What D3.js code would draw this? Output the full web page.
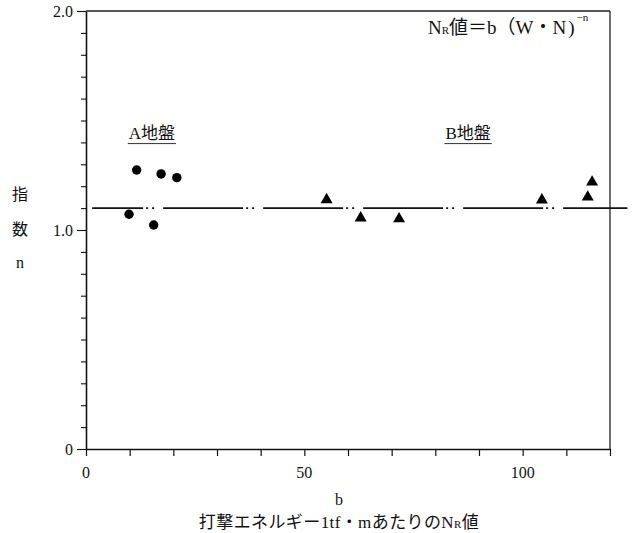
<!DOCTYPE html>
<html><head><meta charset="utf-8">
<script src="https://cdn.jsdelivr.net/npm/d3@7"></script>
<style>
html,body{margin:0;padding:0;background:#fff;}
svg{display:block;}
text{font-family:"Liberation Serif","Noto Sans CJK JP",serif;fill:#111;}
</style></head>
<body>
<svg id="chart" width="632" height="533"></svg>
<script>
// ---- data ----
const groupA_b = [9.85, 11.6, 15.5, 17.2, 20.8];
const groupA_n = [1.072, 1.274, 1.023, 1.256, 1.239];
const groupB_b = [55.1, 62.9, 71.7, 104.4, 114.9, 115.9];
const groupB_n = [1.138, 1.055, 1.051, 1.137, 1.150, 1.219];
const refLineN = 1.10;
const refLineRange = [1.4, 124];
const xMajorTicks = [0, 50, 100];
const yMajorTicks = [0, 1.0, 2.0];
const yTickLabels = ["0", "1.0", "2.0"];
const groupLabels = [{text:"A地盤", b:9.8, n:1.406}, {text:"B地盤", b:82.3, n:1.406}];

const svg = d3.select("#chart");
const L = 86, R = 610, T = 11, B = 449;
const x = d3.scaleLinear().domain([0, 120]).range([L, R]);
const y = d3.scaleLinear().domain([0, 2]).range([B, T]);

// frame: top and right border
svg.append("line").attr("x1", L).attr("x2", R).attr("y1", T).attr("y2", T)
  .attr("stroke", "#222").attr("stroke-width", 1.3);
svg.append("line").attr("x1", R).attr("x2", R).attr("y1", T).attr("y2", B)
  .attr("stroke", "#222").attr("stroke-width", 1.3);

// x axis
const xMinor = d3.range(0, 121, 10);
const gx = svg.append("g").attr("transform", `translate(0,${B})`);
gx.call(d3.axisBottom(x).tickValues(xMinor).tickSize(7).tickFormat("").tickSizeOuter(0));
gx.select(".domain").attr("stroke", "#111").attr("stroke-width", 1.6);
gx.selectAll(".tick line").attr("stroke", "#111").attr("stroke-width", 1.2);
gx.selectAll(".xlab").data(xMajorTicks).enter().append("text")
  .attr("x", d => x(d)).attr("y", 29).attr("text-anchor", "middle")
  .attr("font-size", 16).text(d => d);

// y axis
const yMinor = d3.range(0, 21).map(i => i / 10);
const gy = svg.append("g").attr("transform", `translate(${L},0)`);
gy.call(d3.axisLeft(y).tickValues(yMinor).tickSize(5).tickFormat("").tickSizeOuter(0));
gy.select(".domain").attr("stroke", "#111").attr("stroke-width", 1.6);
gy.selectAll(".tick line").attr("stroke", "#111").attr("stroke-width", 1.1)
  .attr("x2", d => yMajorTicks.some(m => Math.abs(m - d) < 1e-9) ? -9 : -5);
gy.selectAll(".ylab").data(yMajorTicks).enter().append("text")
  .attr("x", -13).attr("y", d => y(d) + 6).attr("text-anchor", "end")
  .attr("font-size", 16).text((d, i) => yTickLabels[i]);

// reference dash-dot line
svg.append("line")
  .attr("x1", x(refLineRange[0])).attr("x2", x(refLineRange[1]))
  .attr("y1", y(refLineN)).attr("y2", y(refLineN))
  .attr("stroke", "#111").attr("stroke-width", 1.6)
  .attr("stroke-dasharray", "80,3,2,4,2,9").attr("stroke-dashoffset", 29);

// group A circles
svg.selectAll(".ptA").data(groupA_b).enter().append("circle")
  .attr("cx", d => x(d)).attr("cy", (d, i) => y(groupA_n[i])).attr("r", 4.7)
  .attr("fill", "#000");

// group B triangles
const tri = d3.symbol().type(d3.symbolTriangle).size(62);
svg.selectAll(".ptB").data(groupB_b).enter().append("path")
  .attr("d", tri)
  .attr("transform", (d, i) => `translate(${x(d)},${y(groupB_n[i])})`)
  .attr("fill", "#000");

// group labels with underline
groupLabels.forEach(g => {
  const t = svg.append("text").attr("x", x(g.b)).attr("y", y(g.n) - 2)
    .attr("font-size", 17).text(g.text);
  const bb = t.node().getBBox();
  svg.append("line").attr("x1", bb.x - 1).attr("x2", bb.x + bb.width + 1)
    .attr("y1", y(g.n) + 2.5).attr("y2", y(g.n) + 2.5)
    .attr("stroke", "#333").attr("stroke-width", 1);
});

// formula
const f = svg.append("text").attr("x", 428).attr("y", 34).attr("font-size", 19);
f.append("tspan").text("N");
f.append("tspan").attr("font-size", 11).text("R");
f.append("tspan").text("値＝b（W・N");
f.append("tspan").attr("dx", 2).text(")");
f.append("tspan").attr("font-size", 11).attr("dx", 2).attr("dy", -13).text("−n");

// y axis title
[["指", 200], ["数", 235], ["n", 268]].forEach(([c, yy]) => {
  svg.append("text").attr("x", 20).attr("y", yy).attr("text-anchor", "middle")
    .attr("font-size", 16).text(c);
});

// x axis titles
svg.append("text").attr("x", 339).attr("y", 505).attr("text-anchor", "middle")
  .attr("font-size", 16).text("b");
const xt = svg.append("text").attr("x", 339).attr("y", 528).attr("text-anchor", "middle")
  .attr("font-size", 17).attr("letter-spacing", 0.4);
xt.append("tspan").text("打撃エネルギー1tf・mあたりのN");
xt.append("tspan").attr("font-size", 11).text("R");
xt.append("tspan").text("値");
</script>
</body></html>
